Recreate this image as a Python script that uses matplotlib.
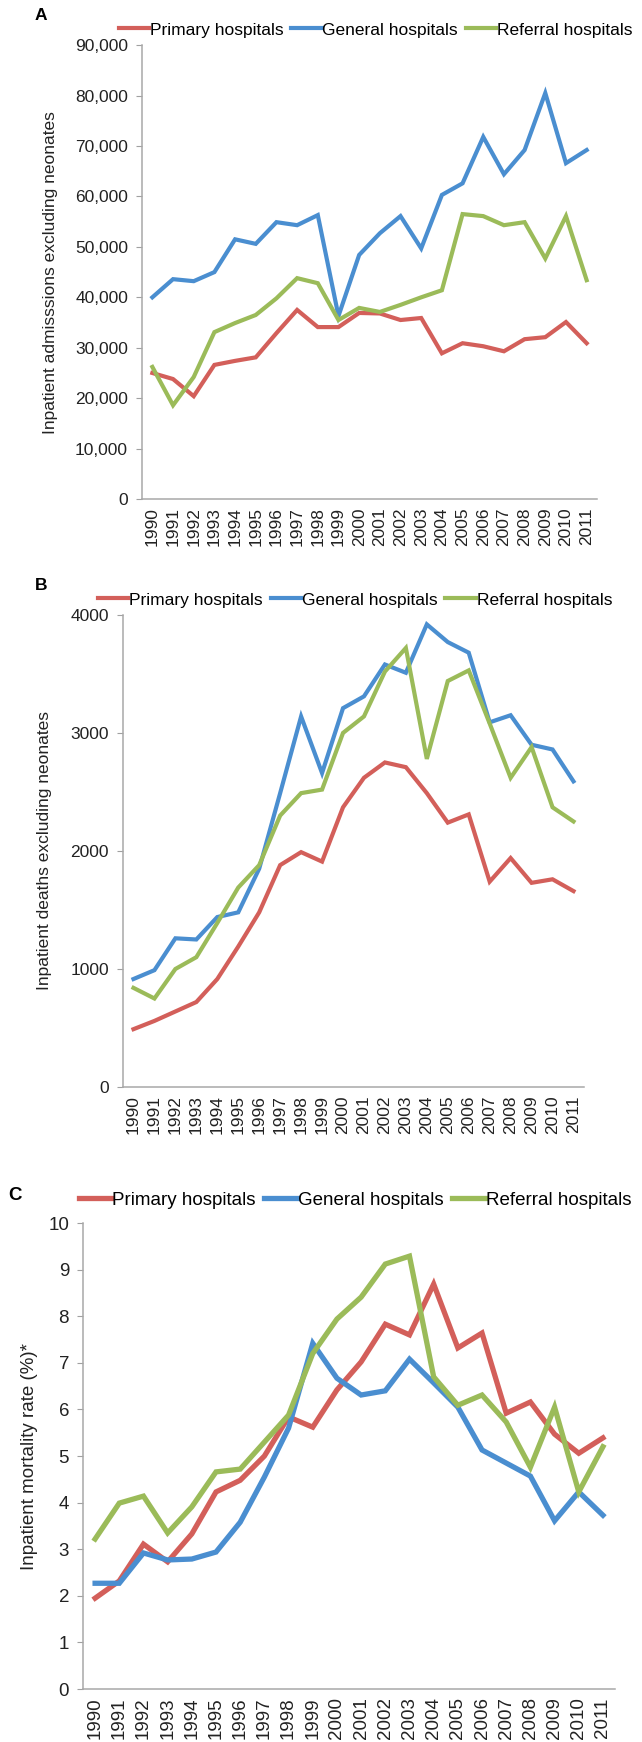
import matplotlib
matplotlib.use('Agg')
import matplotlib.pyplot as plt
from matplotlib.ticker import StrMethodFormatter

plt.rcParams['font.family'] = ['Liberation Sans', 'DejaVu Sans']

# Years on the x axis
lata = [str(r) for r in range(1990, 2012)]

# Panel A - inpatient admissions excluding neonates
przyjecia_primary = [25000, 23800, 20400, 26600, 27400, 28100, 32900, 37500, 34100, 34100, 36900,
                     36800, 35500, 35900, 28900, 30900, 30300, 29300, 31700, 32100, 35100, 30900]
przyjecia_general = [40000, 43600, 43200, 45000, 51500, 50600, 54900, 54300, 56300, 36300, 48400,
                     52700, 56100, 49700, 60300, 62600, 71800, 64400, 69200, 80500, 66600, 69200]
przyjecia_referral = [26200, 18600, 24200, 33100, 34900, 36500, 39800, 43800, 42800, 35500, 37900,
                      37100, 38500, 40000, 41400, 56500, 56100, 54300, 54900, 47700, 56100, 43400]

# Panel B - inpatient deaths excluding neonates
zgony_primary = [490, 560, 640, 720, 915, 1190, 1480, 1880, 1990, 1910, 2370,
                 2620, 2750, 2710, 2490, 2240, 2310, 1740, 1940, 1730, 1760, 1660]
zgony_general = [915, 990, 1260, 1250, 1440, 1480, 1850, 2490, 3140, 2660, 3210,
                 3310, 3580, 3510, 3920, 3770, 3680, 3090, 3150, 2900, 2860, 2590]
zgony_referral = [840, 750, 1000, 1100, 1390, 1690, 1880, 2300, 2490, 2520, 3000,
                  3140, 3520, 3720, 2780, 3440, 3530, 3080, 2620, 2880, 2370, 2250]

# Panel C - inpatient mortality rate (%)
smiertelnosc_primary = [1.95, 2.32, 3.11, 2.73, 3.33, 4.23, 4.48, 5.0, 5.84, 5.62, 6.42,
                        7.02, 7.83, 7.60, 8.69, 7.32, 7.64, 5.92, 6.16, 5.47, 5.06, 5.39]
smiertelnosc_general = [2.27, 2.27, 2.92, 2.77, 2.79, 2.94, 3.58, 4.55, 5.6, 7.42, 6.67,
                        6.31, 6.40, 7.08, 6.57, 6.05, 5.13, 4.85, 4.57, 3.61, 4.23, 3.73]
smiertelnosc_referral = [3.22, 3.99, 4.14, 3.35, 3.91, 4.66, 4.72, 5.3, 5.88, 7.2, 7.94,
                         8.41, 9.12, 9.29, 6.70, 6.09, 6.31, 5.73, 4.76, 6.05, 4.23, 5.2]

nazwy = ['Primary hospitals', 'General hospitals', 'Referral hospitals']
kolory = ['#D35F5A', '#4A8ED0', '#9BBB59']

fig = plt.figure(figsize=(6.42, 17.42), dpi=100)


def rysuj_panel(pozycja, serie, ylim, yticks, ylabel, ylabel_x, litera, litera_xy,
                legenda_xy, rozmiar, grubosc, formatter=None):
    ax = fig.add_axes(pozycja)
    x = list(range(len(lata)))
    for wartosci, nazwa, kolor in zip(serie, nazwy, kolory):
        ax.plot(x, wartosci, color=kolor, linewidth=grubosc, label=nazwa,
                solid_joinstyle='miter')
    ax.set_xlim(-0.5, len(lata) - 0.5)
    ax.set_ylim(*ylim)
    ax.set_yticks(yticks)
    if formatter:
        ax.yaxis.set_major_formatter(StrMethodFormatter(formatter))
    ax.set_xticks(x)
    ax.set_xticklabels(lata, rotation=90, fontsize=rozmiar, color='#222222')
    ax.tick_params(axis='y', labelsize=rozmiar, direction='out', length=4,
                   color='#A0A0A0', labelcolor='#222222', pad=6)
    ax.tick_params(axis='x', length=0, pad=6)
    for s in ['top', 'right']:
        ax.spines[s].set_visible(False)
    for s in ['left', 'bottom']:
        ax.spines[s].set_color('#A8A8A8')
        ax.spines[s].set_linewidth(1.1)
    ax.set_ylabel(ylabel, fontsize=rozmiar, color='#222222')
    ax.yaxis.set_label_coords(ylabel_x, 0.5)
    ax.legend(loc='center', bbox_to_anchor=legenda_xy, bbox_transform=fig.transFigure,
              ncol=3, frameon=False, fontsize=rozmiar, handlelength=1.75,
              handletextpad=0.05, columnspacing=0.45, borderpad=0, borderaxespad=0)
    fig.text(litera_xy[0], litera_xy[1], litera, fontsize=rozmiar, fontweight='bold',
             ha='center', va='center')
    return ax


# Panel A
rysuj_panel([0.2212, 0.7135, 0.7087, 0.2606],
            [przyjecia_primary, przyjecia_general, przyjecia_referral],
            (0, 90000), range(0, 90001, 10000),
            'Inpatient admisssions excluding neonates', -0.185,
            'A', (41 / 642, 1 - 15 / 1742), (0.585, 1 - 30 / 1742), 12.5, 3.0,
            formatter='{x:,.0f}')

# Panel B
rysuj_panel([0.1916, 0.3760, 0.7180, 0.2710],
            [zgony_primary, zgony_general, zgony_referral],
            (0, 4000), range(0, 4001, 1000),
            'Inpatient deaths excluding neonates', -0.154,
            'B', (41 / 642, 1 - 586 / 1742), (0.553, 1 - 600 / 1742), 12.5, 3.0)

# Panel C
rysuj_panel([0.1293, 0.0304, 0.8287, 0.2675],
            [smiertelnosc_primary, smiertelnosc_general, smiertelnosc_referral],
            (0, 10), range(0, 11, 1),
            'Inpatient mortality rate (%)*', -0.085,
            'C', (15 / 642, 1 - 1195 / 1742), (0.553, 1 - 1200 / 1742), 13.5, 3.8)

plt.savefig('out.png', dpi=100)
